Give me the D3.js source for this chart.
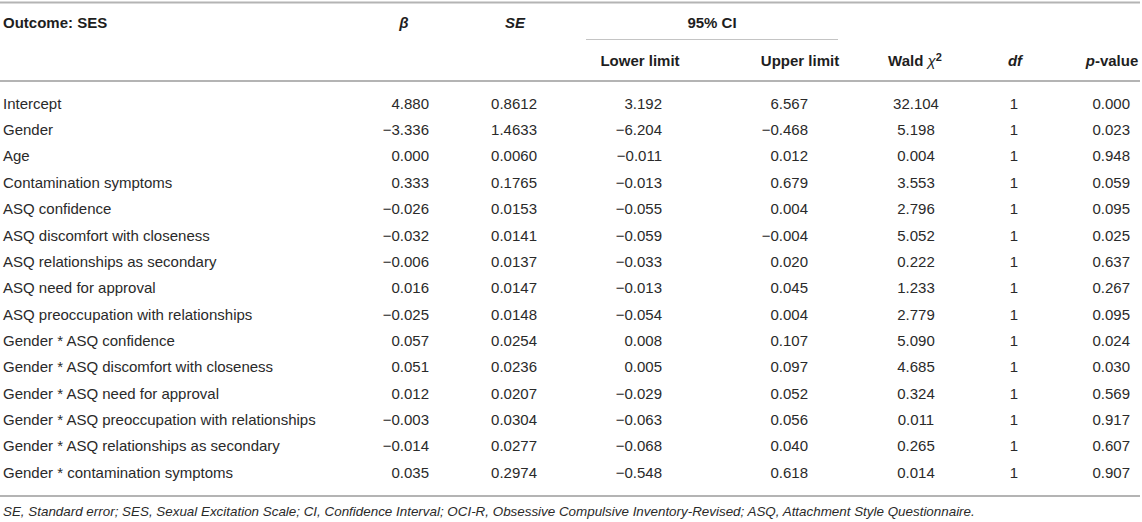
<!DOCTYPE html>
<html>
<head>
<meta charset="utf-8">
<script src="https://cdn.jsdelivr.net/npm/d3@7"></script>
<style>
  html, body { margin: 0; padding: 0; background: #fff; }
  svg { display: block; font-family: "Liberation Sans", Arial, Helvetica, sans-serif; }
</style>
</head>
<body>
<svg id="table" width="1142" height="522"></svg>
<script>
// ---- table data ----
var rowLabels = [
  "Intercept", "Gender", "Age", "Contamination symptoms", "ASQ confidence",
  "ASQ discomfort with closeness", "ASQ relationships as secondary", "ASQ need for approval",
  "ASQ preoccupation with relationships", "Gender * ASQ confidence",
  "Gender * ASQ discomfort with closeness", "Gender * ASQ need for approval",
  "Gender * ASQ preoccupation with relationships", "Gender * ASQ relationships as secondary",
  "Gender * contamination symptoms"
];
var beta   = [4.880, -3.336, 0.000, 0.333, -0.026, -0.032, -0.006, 0.016, -0.025, 0.057, 0.051, 0.012, -0.003, -0.014, 0.035];
var se     = [0.8612, 1.4633, 0.0060, 0.1765, 0.0153, 0.0141, 0.0137, 0.0147, 0.0148, 0.0254, 0.0236, 0.0207, 0.0304, 0.0277, 0.2974];
var lower  = [3.192, -6.204, -0.011, -0.013, -0.055, -0.059, -0.033, -0.013, -0.054, 0.008, 0.005, -0.029, -0.063, -0.068, -0.548];
var upper  = [6.567, -0.468, 0.012, 0.679, 0.004, -0.004, 0.020, 0.045, 0.004, 0.107, 0.097, 0.052, 0.056, 0.040, 0.618];
var wald   = [32.104, 5.198, 0.004, 3.553, 2.796, 5.052, 0.222, 1.233, 2.779, 5.090, 4.685, 0.324, 0.011, 0.265, 0.014];
var dfs    = [1, 1, 1, 1, 1, 1, 1, 1, 1, 1, 1, 1, 1, 1, 1];
var pValue = [0.000, 0.023, 0.948, 0.059, 0.095, 0.025, 0.637, 0.267, 0.095, 0.024, 0.030, 0.569, 0.917, 0.607, 0.907];
var footnote = "SE, Standard error; SES, Sexual Excitation Scale; CI, Confidence Interval; OCI-R, Obsessive Compulsive Inventory-Revised; ASQ, Attachment Style Questionnaire.";

var width = 1142, height = 522;
var textColor = "#2a2a2a", ruleColor = "#b4b4b4";

var svg = d3.select("#table");

// rows laid out with a band scale
var y = d3.scaleBand()
    .domain(d3.range(rowLabels.length))
    .range([90.3, 485.7]);

var f3 = d3.format(".3f"), f4 = d3.format(".4f"), fd = d3.format("d");

// column layout: anchor x + alignment
var columns = [
  {values: rowLabels, fmt: function(d){ return d; }, x: 3,    anchor: "start"},
  {values: beta,      fmt: f3, x: 429,  anchor: "end"},
  {values: se,        fmt: f4, x: 537,  anchor: "end"},
  {values: lower,     fmt: f3, x: 662,  anchor: "end"},
  {values: upper,     fmt: f3, x: 808,  anchor: "end"},
  {values: wald,      fmt: f3, x: 916,  anchor: "middle"},
  {values: dfs,       fmt: fd, x: 1014, anchor: "middle"},
  {values: pValue,    fmt: f3, x: 1130, anchor: "end"}
];

//================= rules
function rule(x1, x2, yy, w, c) {
  svg.append("line")
     .attr("x1", x1).attr("x2", x2)
     .attr("y1", yy).attr("y2", yy)
     .attr("stroke", c || ruleColor)
     .attr("stroke-width", w);
}
rule(0, 1140, 2.5, 2);
rule(586, 838, 39.5, 1.2, "#c4c4c4");
rule(0, 1140, 81, 2);
rule(0, 1140, 496, 2);

//================= header
var head = svg.append("g").attr("class", "header")
    .style("font-size", "15px").style("font-weight", "bold").attr("fill", "#1e1e1e");

head.append("text").attr("x", 3).attr("y", 23).attr("dy", "0.35em").text("Outcome: SES");
head.append("text").attr("x", 404).attr("y", 23).attr("dy", "0.35em")
    .attr("text-anchor", "middle").style("font-style", "italic").text("β");
head.append("text").attr("x", 515).attr("y", 23).attr("dy", "0.35em")
    .attr("text-anchor", "middle").style("font-style", "italic").text("SE");
head.append("text").attr("x", 712).attr("y", 23).attr("dy", "0.35em")
    .attr("text-anchor", "middle").text("95% CI");

head.append("text").attr("x", 640).attr("y", 61).attr("dy", "0.35em")
    .attr("text-anchor", "middle").text("Lower limit");
head.append("text").attr("x", 800).attr("y", 61).attr("dy", "0.35em")
    .attr("text-anchor", "middle").text("Upper limit");

var wt = head.append("text").attr("x", 915).attr("y", 61).attr("dy", "0.35em")
    .attr("text-anchor", "middle");
wt.append("tspan").text("Wald ");
wt.append("tspan").style("font-style", "italic").style("font-weight", "normal").text("χ");
wt.append("tspan").attr("dy", "-0.45em").style("font-size", "11px").text("2");

head.append("text").attr("x", 1015).attr("y", 61).attr("dy", "0.35em")
    .attr("text-anchor", "middle").style("font-style", "italic").text("df");

var pt = head.append("text").attr("x", 1112).attr("y", 61).attr("dy", "0.35em")
    .attr("text-anchor", "middle");
pt.append("tspan").style("font-style", "italic").text("p");
pt.append("tspan").text("-value");

//================= body cells
var body = svg.append("g").attr("class", "body")
    .style("font-size", "15px").attr("fill", textColor);

columns.forEach(function(col) {
  body.append("g").selectAll("text")
      .data(col.values)
      .enter()
      .append("text")
      .attr("x", col.x)
      .attr("y", function(d, i) { return y(i) + y.bandwidth() / 2; })
      .attr("dy", "0.35em")
      .attr("text-anchor", col.anchor)
      .text(col.fmt);
});

//================= footnote
svg.append("text")
   .attr("x", 3).attr("y", 511).attr("dy", "0.35em")
   .style("font-size", "13.4px").style("font-style", "italic")
   .attr("fill", textColor)
   .text(footnote);
</script>
</body>
</html>
